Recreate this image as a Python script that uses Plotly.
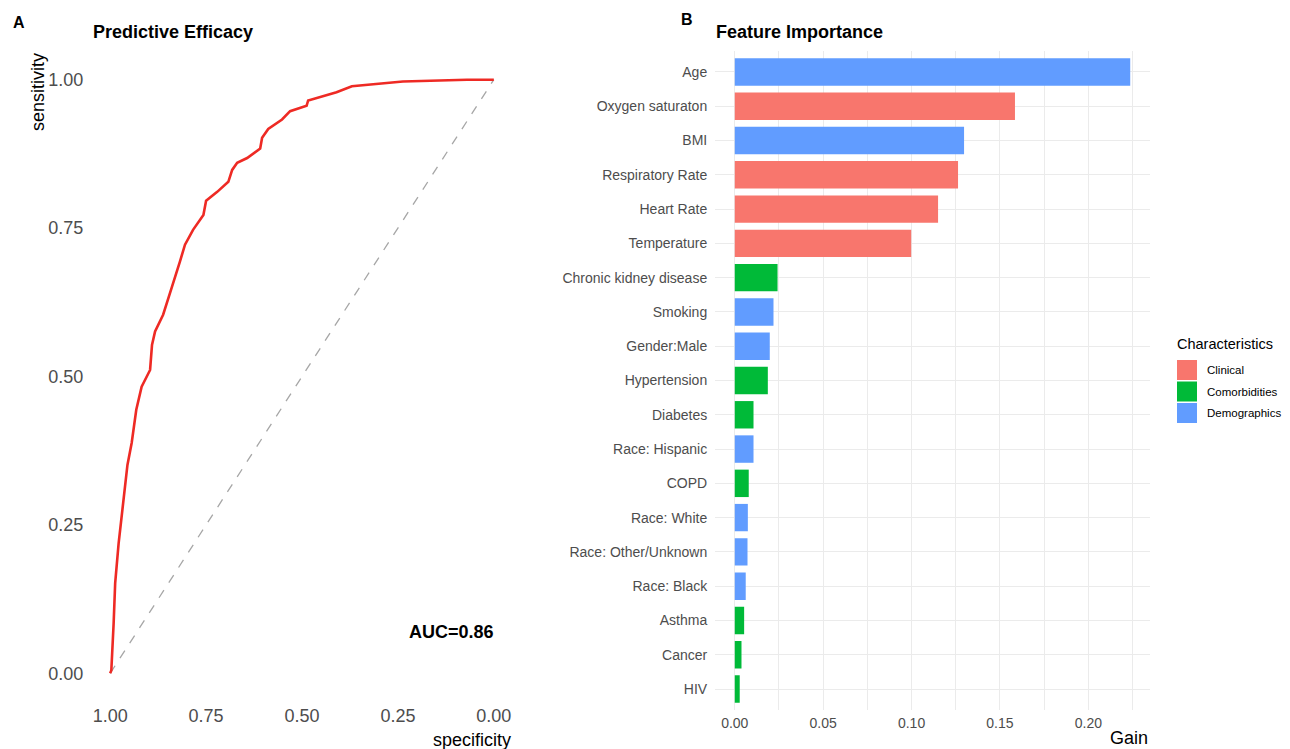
import plotly.graph_objects as go

# ---------------- data ----------------
roc_specificity = [1.000, 0.997, 0.991, 0.987, 0.978, 0.965, 0.955, 0.944, 0.932, 0.918,
                   0.896, 0.891, 0.883, 0.862, 0.849, 0.839, 0.818, 0.805, 0.784, 0.757,
                   0.750, 0.721, 0.692, 0.682, 0.669, 0.643, 0.609, 0.604, 0.588, 0.552,
                   0.531, 0.488, 0.484, 0.445, 0.410, 0.370, 0.305, 0.237, 0.070, 0.000]
roc_sensitivity = [0.000, 0.005, 0.084, 0.152, 0.219, 0.292, 0.351, 0.388, 0.444, 0.483,
                   0.511, 0.553, 0.576, 0.604, 0.629, 0.651, 0.694, 0.722, 0.747, 0.772,
                   0.796, 0.811, 0.828, 0.848, 0.860, 0.868, 0.884, 0.902, 0.917, 0.933,
                   0.947, 0.956, 0.965, 0.972, 0.979, 0.989, 0.993, 0.997, 1.000, 1.000]
auc_label = "AUC=0.86"
auc_pos = (0.11, 0.07)

features = ["Age", "Oxygen saturaton", "BMI", "Respiratory Rate", "Heart Rate", "Temperature",
            "Chronic kidney disease", "Smoking", "Gender:Male", "Hypertension", "Diabetes",
            "Race: Hispanic", "COPD", "Race: White", "Race: Other/Unknown", "Race: Black",
            "Asthma", "Cancer", "HIV"]
gain = [0.2237, 0.1585, 0.1297, 0.1263, 0.1150, 0.0998, 0.0242, 0.0219, 0.0198, 0.0187,
        0.0106, 0.0106, 0.0079, 0.0074, 0.0072, 0.0062, 0.0053, 0.0038, 0.0028]
group = ["Demographics", "Clinical", "Demographics", "Clinical", "Clinical", "Clinical",
         "Comorbidities", "Demographics", "Demographics", "Comorbidities", "Comorbidities",
         "Demographics", "Comorbidities", "Demographics", "Demographics", "Demographics",
         "Comorbidities", "Comorbidities", "Comorbidities"]
groups = ["Clinical", "Comorbidities", "Demographics"]
group_colors = {"Clinical": "#F8766D", "Comorbidities": "#00BA38", "Demographics": "#619CFF"}

roc_ticks = [1.0, 0.75, 0.5, 0.25, 0.0]
gain_ticks = [0.0, 0.05, 0.10, 0.15, 0.20]

# ---------------- styling helpers ----------------
W, H = 1290, 749
FONT = "Liberation Sans, Arial, Helvetica, sans-serif"
TICK_COL = "#4D4D4D"
GRID = "#EBEBEB"


def px(x):
    return x / W


def py(y):
    return 1 - y / H


fig = go.Figure()

# ROC panel
fig.add_trace(go.Scatter(x=[1, 0], y=[0, 1], mode="lines",
                         line=dict(color="#A6A6A6", width=1.3, dash="dash"),
                         xaxis="x", yaxis="y", showlegend=False, hoverinfo="skip"))
fig.add_trace(go.Scatter(x=roc_specificity, y=roc_sensitivity, mode="lines",
                         line=dict(color="#EE2A24", width=2.6),
                         xaxis="x", yaxis="y", showlegend=False))

# Feature importance panel
for g in groups:
    ys = [f for f, gg in zip(features, group) if gg == g]
    xs = [v for v, gg in zip(gain, group) if gg == g]
    fig.add_trace(go.Bar(x=xs, y=ys, orientation="h", width=0.8,
                         marker=dict(color=group_colors[g], line=dict(width=0)),
                         name=g, xaxis="x2", yaxis="y2", showlegend=False))

gmax = max(gain)
ncat = len(features)

fig.update_layout(
    width=W, height=H,
    margin=dict(l=0, r=0, t=0, b=0),
    paper_bgcolor="white", plot_bgcolor="white",
    barmode="overlay",
    font=dict(family=FONT, color="black"),
    xaxis=dict(domain=[px(91), px(513)], range=[1.05, -0.05],
               tickvals=roc_ticks, ticktext=[f"{v:.2f}" for v in roc_ticks],
               tickfont=dict(family=FONT, size=18, color=TICK_COL),
               showgrid=False, zeroline=False, showline=False,
               ticks="", anchor="y"),
    yaxis=dict(domain=[py(703), py(50)], range=[-0.05, 1.05],
               tickvals=roc_ticks, ticktext=[f"{v:.2f}" for v in roc_ticks],
               tickfont=dict(family=FONT, size=18, color=TICK_COL),
               showgrid=False, zeroline=False, showline=False,
               ticks="outside", ticklen=3, tickcolor="rgba(0,0,0,0)", anchor="x"),
    xaxis2=dict(domain=[px(715), px(1150)], range=[-0.05 * gmax, 1.05 * gmax],
                tickvals=gain_ticks, ticktext=[f"{v:.2f}" for v in gain_ticks],
                tickfont=dict(family=FONT, size=14, color=TICK_COL),
                showgrid=True, gridcolor=GRID, gridwidth=1,
                minor=dict(tickvals=[0.025, 0.075, 0.125, 0.175, 0.225], showgrid=True,
                           gridcolor=GRID, gridwidth=0.8),
                zeroline=False, showline=False,
                ticks="outside", ticklen=1, tickcolor="rgba(0,0,0,0)", anchor="y2"),
    yaxis2=dict(domain=[py(709.6), py(51.4)], type="category",
                categoryorder="array", categoryarray=features[::-1],
                range=[-0.6, ncat - 1 + 0.6],
                tickfont=dict(family=FONT, size=14, color=TICK_COL),
                showgrid=True, gridcolor=GRID, gridwidth=1,
                zeroline=False, showline=False,
                ticks="outside", ticklen=4, tickcolor="rgba(0,0,0,0)", anchor="x2"),
)

ann = []
ann.append(dict(text="<b>A</b>", x=px(11), y=py(22), xref="paper", yref="paper",
                xanchor="left", yanchor="middle", showarrow=False,
                font=dict(family=FONT, size=16, color="black")))
ann.append(dict(text="<b>Predictive Efficacy</b>", x=px(91), y=py(32), xref="paper", yref="paper",
                xanchor="left", yanchor="middle", showarrow=False,
                font=dict(family=FONT, size=18, color="black")))
ann.append(dict(text="<b>B</b>", x=px(679), y=py(20), xref="paper", yref="paper",
                xanchor="left", yanchor="middle", showarrow=False,
                font=dict(family=FONT, size=16, color="black")))
ann.append(dict(text="<b>Feature Importance</b>", x=px(714), y=py(32), xref="paper", yref="paper",
                xanchor="left", yanchor="middle", showarrow=False,
                font=dict(family=FONT, size=18, color="black")))
ann.append(dict(text="sensitivity", textangle=-90, x=px(38), y=py(92), xref="paper", yref="paper",
                xanchor="center", yanchor="middle", showarrow=False,
                font=dict(family=FONT, size=18, color="black")))
ann.append(dict(text="specificity", x=px(513), y=py(740), xref="paper", yref="paper",
                xanchor="right", yanchor="middle", showarrow=False,
                font=dict(family=FONT, size=18, color="black")))
ann.append(dict(text="Gain", x=px(1150), y=py(738), xref="paper", yref="paper",
                xanchor="right", yanchor="middle", showarrow=False,
                font=dict(family=FONT, size=18, color="black")))
ann.append(dict(text=f"<b>{auc_label}</b>", x=auc_pos[0], y=auc_pos[1], xref="x", yref="y",
                xanchor="center", yanchor="middle", showarrow=False,
                font=dict(family=FONT, size=18, color="black")))

# custom legend
ann.append(dict(text="Characteristics", x=px(1175), y=py(344), xref="paper", yref="paper",
                xanchor="left", yanchor="middle", showarrow=False,
                font=dict(family=FONT, size=14.5, color="black")))
shapes = []
for i, g in enumerate(groups):
    top = 360 + i * 21.5
    shapes.append(dict(type="rect", xref="paper", yref="paper",
                       x0=px(1177), x1=px(1197), y0=py(top + 20), y1=py(top),
                       fillcolor=group_colors[g], line=dict(width=0)))
    ann.append(dict(text=g, x=px(1205), y=py(top + 10), xref="paper", yref="paper",
                    xanchor="left", yanchor="middle", showarrow=False,
                    font=dict(family=FONT, size=11.5, color="black")))

fig.update_layout(annotations=ann, shapes=shapes)
fig.write_html("out.html")
